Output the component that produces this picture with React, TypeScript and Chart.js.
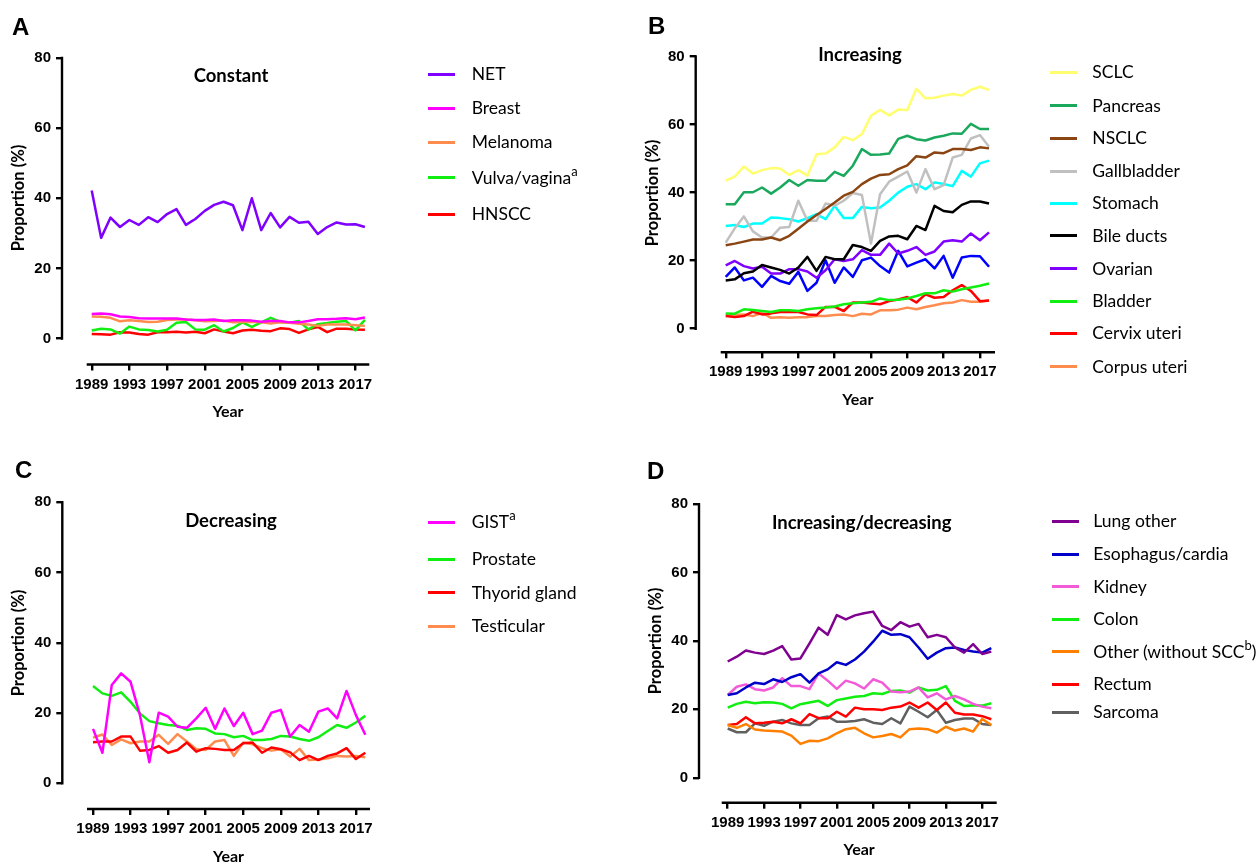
import React, { useEffect, useRef } from "react";
import { Chart, registerables } from "chart.js";

Chart.register(...registerables);

// ---------- data ----------
const years = [1989, 1990, 1991, 1992, 1993, 1994, 1995, 1996, 1997, 1998, 1999, 2000, 2001, 2002, 2003, 2004, 2005, 2006, 2007, 2008, 2009, 2010, 2011, 2012, 2013, 2014, 2015, 2016, 2017, 2018];
const xTickYears = [1989, 1993, 1997, 2001, 2005, 2009, 2013, 2017];
const yTickValues = [0, 20, 40, 60, 80];

// A – Constant
const netA = [42.2, 28.7, 34.5, 31.8, 33.8, 32.4, 34.6, 33.2, 35.5, 36.9, 32.4, 34.1, 36.4, 38.1, 39.0, 38.0, 30.9, 40.0, 30.9, 35.8, 31.7, 34.7, 33.0, 33.3, 29.8, 31.8, 33.1, 32.5, 32.6, 31.8];
const breastA = [7.0, 7.1, 6.9, 6.3, 6.1, 5.8, 5.7, 5.7, 5.7, 5.7, 5.4, 5.3, 5.3, 5.4, 5.0, 5.2, 5.2, 5.1, 4.8, 5.0, 5.0, 4.6, 4.6, 5.0, 5.5, 5.5, 5.6, 5.8, 5.5, 6.0];
const melanomaA = [6.3, 6.2, 5.9, 4.9, 5.2, 5.0, 4.7, 4.8, 5.3, 5.4, 5.4, 5.2, 4.9, 5.0, 5.1, 4.6, 4.7, 4.8, 4.6, 4.3, 4.6, 4.5, 4.2, 4.0, 3.6, 4.0, 4.0, 4.0, 3.8, 3.6];
const vulvaA = [2.3, 2.8, 2.6, 1.4, 3.4, 2.6, 2.4, 2.0, 2.5, 4.5, 4.7, 2.6, 2.5, 3.8, 2.0, 3.0, 4.6, 3.3, 4.6, 5.9, 4.8, 4.5, 5.0, 2.6, 4.1, 4.4, 4.8, 5.0, 2.3, 5.3];
const hnsccA = [1.3, 1.2, 1.1, 1.8, 1.7, 1.3, 1.1, 1.8, 1.8, 1.9, 1.7, 1.9, 1.5, 2.6, 2.0, 1.5, 2.3, 2.5, 2.2, 2.1, 2.9, 2.7, 1.6, 2.6, 3.3, 1.8, 2.8, 2.8, 2.6, 2.5];

// B – Increasing
const sclcB = [43.5, 44.7, 47.7, 45.6, 46.6, 47.2, 47.1, 45.2, 46.6, 45.0, 51.3, 51.5, 53.3, 56.4, 55.4, 57.2, 62.6, 64.3, 62.7, 64.4, 64.3, 70.5, 67.7, 67.9, 68.5, 69.0, 68.5, 70.2, 71.1, 70.2];
const pancreasB = [36.6, 36.6, 40.1, 40.1, 41.5, 39.7, 41.5, 43.7, 42.0, 43.7, 43.5, 43.5, 46.1, 44.9, 47.9, 52.8, 51.1, 51.2, 51.5, 55.8, 56.7, 55.7, 55.3, 56.2, 56.7, 57.4, 57.3, 60.2, 58.7, 58.7];
const nsclcB = [24.5, 25.0, 25.6, 26.2, 26.2, 26.8, 26.0, 27.3, 29.4, 31.5, 33.4, 35.2, 37.1, 39.1, 40.2, 42.5, 44.1, 45.2, 45.4, 46.9, 48.0, 50.7, 50.3, 51.8, 51.6, 52.8, 52.8, 52.5, 53.3, 53.0];
const gallbladderB = [25.3, 29.5, 33.0, 28.6, 26.8, 26.8, 29.7, 29.9, 37.6, 31.7, 31.7, 36.8, 36.2, 37.6, 39.9, 39.3, 25.0, 39.5, 43.2, 44.7, 46.2, 40.0, 46.9, 41.0, 42.2, 50.3, 51.1, 55.9, 56.9, 53.5];
const stomachB = [30.2, 30.5, 29.9, 30.9, 30.9, 32.7, 32.5, 32.2, 31.5, 32.5, 33.7, 32.2, 36.1, 32.5, 32.5, 35.8, 35.4, 35.6, 37.6, 40.0, 41.7, 42.5, 41.0, 43.0, 42.5, 41.9, 46.4, 44.7, 48.6, 49.4];
const bileDuctsB = [14.2, 14.5, 16.3, 16.8, 18.7, 18.0, 17.3, 16.2, 18.0, 21.1, 17.0, 21.1, 20.4, 20.4, 24.6, 24.0, 22.9, 25.8, 27.1, 27.3, 26.3, 30.2, 29.0, 36.1, 34.6, 34.2, 36.4, 37.4, 37.4, 36.8];
const ovarianB = [18.6, 19.9, 18.4, 17.7, 18.2, 16.2, 16.2, 17.5, 17.5, 16.8, 15.0, 17.2, 20.4, 19.9, 20.4, 23.1, 21.7, 21.7, 25.0, 22.1, 22.9, 24.0, 21.7, 22.7, 25.6, 26.0, 25.6, 28.0, 26.0, 28.3];
const unlabeledBlueB = [15.2, 18.0, 14.2, 15.0, 12.3, 15.5, 14.0, 13.2, 16.7, 11.1, 13.5, 20.1, 13.5, 18.0, 15.2, 20.1, 20.9, 18.4, 16.5, 22.9, 18.3, 19.4, 20.4, 17.7, 21.4, 15.0, 20.9, 21.4, 21.3, 18.2];
const bladderB = [4.5, 4.4, 5.7, 5.5, 5.2, 4.9, 5.4, 5.4, 5.2, 5.7, 6.0, 6.2, 6.5, 7.2, 7.5, 7.7, 7.9, 8.9, 8.4, 8.5, 8.9, 9.6, 10.4, 10.4, 11.3, 10.9, 11.6, 12.1, 12.6, 13.3];
const cervixB = [3.7, 3.4, 3.7, 5.0, 4.2, 4.5, 4.9, 4.9, 4.9, 4.2, 4.0, 6.4, 6.4, 5.2, 7.7, 7.7, 7.4, 7.2, 8.1, 8.6, 9.3, 7.7, 10.1, 9.1, 9.3, 11.3, 12.8, 11.1, 8.1, 8.3];
const corpusB = [4.2, 4.0, 4.2, 3.7, 4.7, 3.2, 3.4, 3.2, 3.4, 3.4, 3.7, 3.7, 4.0, 4.2, 3.7, 4.4, 4.2, 5.4, 5.4, 5.6, 6.2, 5.7, 6.4, 6.9, 7.5, 7.7, 8.4, 7.9, 7.9, 8.3];

// C – Decreasing
const gistC = [15.5, 8.7, 28.0, 31.3, 28.9, 19.4, 6.0, 20.1, 19.0, 16.1, 15.8, 18.5, 21.5, 15.5, 21.3, 16.3, 20.1, 14.0, 15.0, 20.1, 20.9, 13.3, 16.6, 14.7, 20.4, 21.3, 18.5, 26.3, 19.4, 13.8];
const prostateC = [27.7, 25.6, 24.9, 25.9, 23.2, 19.9, 17.7, 17.1, 16.6, 16.4, 15.2, 15.7, 15.5, 14.2, 14.0, 13.1, 13.5, 12.3, 12.3, 12.6, 13.5, 13.3, 12.6, 12.1, 13.1, 14.9, 16.6, 15.8, 17.3, 19.2];
const thyroidC = [11.7, 11.9, 11.9, 13.3, 13.3, 9.3, 9.5, 10.6, 8.7, 9.5, 11.6, 9.0, 10.0, 9.8, 9.5, 9.5, 11.4, 11.6, 8.7, 10.2, 9.7, 8.8, 6.6, 7.8, 6.6, 7.8, 8.5, 10.0, 6.9, 8.7];
const testicularC = [13.0, 13.9, 10.9, 12.5, 11.4, 11.9, 11.9, 13.8, 11.2, 14.0, 11.9, 9.7, 9.5, 11.9, 12.3, 7.8, 11.6, 11.1, 10.0, 9.3, 9.7, 7.6, 9.8, 6.6, 6.8, 7.1, 7.8, 7.6, 7.8, 7.4];

// D – Increasing/decreasing
const lungOtherD = [34.0, 35.4, 37.2, 36.6, 36.2, 37.2, 38.5, 34.6, 34.9, 39.3, 43.9, 41.8, 47.6, 46.3, 47.5, 48.1, 48.6, 44.4, 43.2, 45.5, 44.2, 45.0, 41.1, 41.8, 41.1, 38.1, 36.6, 39.1, 36.2, 36.9];
const esophagusD = [24.2, 24.7, 26.4, 27.8, 27.4, 28.8, 28.0, 29.4, 30.3, 27.8, 30.5, 31.7, 33.8, 33.0, 34.6, 36.9, 39.8, 43.0, 41.8, 42.0, 41.1, 38.1, 34.8, 36.6, 37.9, 38.1, 37.4, 36.9, 36.6, 37.9];
const kidneyD = [24.2, 26.6, 27.3, 25.9, 25.5, 26.4, 29.1, 26.8, 26.8, 25.9, 30.5, 28.4, 26.0, 28.4, 27.6, 26.1, 28.8, 27.8, 25.2, 25.0, 25.2, 26.4, 23.5, 24.7, 22.9, 23.9, 22.9, 21.6, 20.8, 20.3];
const colonD = [20.5, 21.6, 22.2, 21.8, 22.1, 22.0, 21.6, 20.3, 21.5, 22.0, 22.5, 21.0, 22.7, 23.2, 23.7, 23.9, 24.7, 24.5, 25.4, 25.5, 24.9, 26.4, 25.5, 25.7, 26.8, 22.5, 21.0, 21.1, 21.1, 21.8];
const otherD = [15.4, 14.6, 15.7, 14.1, 13.8, 13.7, 13.5, 12.3, 9.9, 10.8, 10.7, 11.5, 13.0, 14.2, 14.6, 13.0, 11.8, 12.2, 12.8, 11.8, 14.2, 14.4, 14.2, 13.2, 14.9, 13.8, 14.4, 13.5, 17.2, 15.4];
const rectumD = [15.4, 15.7, 17.7, 15.9, 16.1, 16.4, 15.9, 17.1, 15.9, 18.6, 17.4, 17.4, 19.3, 17.9, 20.5, 20.0, 20.0, 19.8, 20.5, 20.8, 22.0, 20.5, 22.0, 19.8, 22.0, 19.0, 18.5, 18.5, 18.0, 17.1];
const sarcomaD = [14.4, 13.3, 13.3, 15.9, 15.2, 16.4, 16.9, 15.9, 15.4, 15.4, 17.4, 17.9, 16.4, 16.4, 16.6, 17.1, 16.1, 15.7, 17.4, 15.9, 20.8, 19.3, 17.7, 19.8, 16.1, 16.9, 17.3, 17.3, 15.7, 15.4];

// ---------- styles ----------
const W = 1257;
const H = 862;
const LEGEND_FONT = "Lato, 'Open Sans', sans-serif";
const AXIS_FONT = "Lato, 'Liberation Sans', sans-serif";

type Series = { label: string; sup?: string; after?: string; values: number[]; color: string; inLegend?: boolean };

type Geo = {
  yLineX: number; y80: number; y0: number; xLineY: number;
  xStart: number; xEnd: number; x1989: number; pxYr: number;
  title: string; titleX: number; titleY: number;
  letter: string; letterX: number; letterY: number;
  legLineX: number; legTextX: number; legRows: number[];
};

const panels: { geo: Geo; series: Series[] }[] = [
  {
    geo: { yLineX: 62, y80: 58, y0: 338.5, xLineY: 364.5, xStart: 86.7, xEnd: 369.3, x1989: 91.7, pxYr: 9.42,
      title: "Constant", titleX: 231, titleY: 75, letter: "A", letterX: 12, letterY: 27,
      legLineX: 427.7, legTextX: 471.7, legRows: [74, 108.3, 142.3, 177.7, 214] },
    series: [
      { label: "NET", values: netA, color: "#7f00ff" },
      { label: "Breast", values: breastA, color: "#ff00ff" },
      { label: "Melanoma", values: melanomaA, color: "#ff8c4f" },
      { label: "Vulva/vagina", sup: "a", values: vulvaA, color: "#11ee11" },
      { label: "HNSCC", values: hnsccA, color: "#ff0000" },
    ],
  },
  {
    geo: { yLineX: 695.7, y80: 56.5, y0: 328.7, xLineY: 352.3, xStart: 720.7, xEnd: 995, x1989: 725.7, pxYr: 9.08,
      title: "Increasing", titleX: 860, titleY: 54.3, letter: "B", letterX: 648, letterY: 26,
      legLineX: 1050, legTextX: 1092.3, legRows: [72.3, 105.7, 138.3, 171, 203.3, 235.7, 268.7, 301, 333.3, 366.7] },
    series: [
      { label: "SCLC", values: sclcB, color: "#ffff70" },
      { label: "Pancreas", values: pancreasB, color: "#1aa85c" },
      { label: "NSCLC", values: nsclcB, color: "#8b4513" },
      { label: "Gallbladder", values: gallbladderB, color: "#c0c0c0" },
      { label: "Stomach", values: stomachB, color: "#00ffff" },
      { label: "Bile ducts", values: bileDuctsB, color: "#000000" },
      { label: "Ovarian", values: ovarianB, color: "#7f00ff" },
      { label: "", values: unlabeledBlueB, color: "#0000ff", inLegend: false },
      { label: "Bladder", values: bladderB, color: "#11ee11" },
      { label: "Cervix uteri", values: cervixB, color: "#ff0000" },
      { label: "Corpus uteri", values: corpusB, color: "#ff8c4f" },
    ],
  },
  {
    geo: { yLineX: 62.3, y80: 502.3, y0: 783.3, xLineY: 809, xStart: 87, xEnd: 370, x1989: 93, pxYr: 9.39,
      title: "Decreasing", titleX: 231, titleY: 520, letter: "C", letterX: 15, letterY: 470,
      legLineX: 428.3, legTextX: 471.7, legRows: [522.3, 559, 592.7, 626] },
    series: [
      { label: "GIST", sup: "a", values: gistC, color: "#ff00ff" },
      { label: "Prostate", values: prostateC, color: "#11ee11" },
      { label: "Thyorid gland", values: thyroidC, color: "#ff0000" },
      { label: "Testicular", values: testicularC, color: "#ff8c4f" },
    ],
  },
  {
    geo: { yLineX: 699, y80: 504.3, y0: 777.7, xLineY: 802.7, xStart: 721.7, xEnd: 996.7, x1989: 727.7, pxYr: 9.09,
      title: "Increasing/decreasing", titleX: 861.7, titleY: 521.7, letter: "D", letterX: 647, letterY: 471,
      legLineX: 1051.7, legTextX: 1093.3, legRows: [521, 554, 586.7, 619.3, 651.7, 684.3, 712.3] },
    series: [
      { label: "Lung other", values: lungOtherD, color: "#800090" },
      { label: "Esophagus/cardia", values: esophagusD, color: "#0000c8" },
      { label: "Kidney", values: kidneyD, color: "#f25ad8" },
      { label: "Colon", values: colonD, color: "#11ee11" },
      { label: "Other (without SCC", sup: "b", after: ")", values: otherD, color: "#ff8000" },
      { label: "Rectum", values: rectumD, color: "#ff0000" },
      { label: "Sarcoma", values: sarcomaD, color: "#606060" },
    ],
  },
];

const TICK_FONT = { family: "'Liberation Sans', Arial, sans-serif", weight: "bold" as const, size: 15 };

function PanelChart({ geo, series }: { geo: Geo; series: Series[] }) {
  const ref = useRef<HTMLCanvasElement | null>(null);
  useEffect(() => {
    if (!ref.current) return;
    const pxPerUnit = (geo.y0 - geo.y80) / 80;
    const yMin = -(geo.xLineY - geo.y0) / pxPerUnit;
    const xMin = 1989 - (geo.x1989 - geo.yLineX) / geo.pxYr;
    const xMax = 1989 + (geo.xEnd - geo.x1989) / geo.pxYr;
    const xAxisStart = 1989 - (geo.x1989 - geo.xStart) / geo.pxYr;
    const Y_AXIS_W = 60;
    const X_AXIS_H = 40;

    const axisLines = {
      id: "prismAxes",
      afterDraw(chart: any) {
        const ctx = chart.ctx;
        const xs = chart.scales.x;
        const ys = chart.scales.y;
        const area = chart.chartArea;
        ctx.save();
        ctx.strokeStyle = "#000";
        ctx.lineWidth = 2.4;
        ctx.lineCap = "butt";
        ctx.beginPath();
        ctx.moveTo(area.left, ys.getPixelForValue(80) - 1.2);
        ctx.lineTo(area.left, ys.getPixelForValue(0) + 1.2);
        ctx.stroke();
        ctx.beginPath();
        ctx.moveTo(xs.getPixelForValue(xAxisStart), area.bottom);
        ctx.lineTo(area.right, area.bottom);
        ctx.stroke();
        ctx.restore();
      },
    };

    const chart = new Chart(ref.current, {
      type: "line",
      data: {
        datasets: series.map((s) => ({
          label: s.label,
          data: s.values.map((v, i) => ({ x: years[i], y: v })),
          borderColor: s.color,
          backgroundColor: s.color,
          borderWidth: 2.5,
          pointRadius: 0,
          tension: 0,
          borderJoinStyle: "round" as const,
          fill: false,
        })),
      },
      options: {
        responsive: false,
        animation: false,
        events: [],
        layout: {
          padding: {
            left: geo.yLineX - Y_AXIS_W,
            top: geo.y80,
            right: W - geo.xEnd,
            bottom: H - X_AXIS_H - geo.xLineY,
          },
        },
        plugins: { legend: { display: false }, tooltip: { enabled: false }, title: { display: false } },
        scales: {
          x: {
            type: "linear",
            min: xMin,
            max: xMax,
            afterBuildTicks: (scale: any) => {
              scale.ticks = xTickYears.map((v) => ({ value: v }));
            },
            afterFit: (scale: any) => {
              scale.height = X_AXIS_H;
            },
            ticks: {
              autoSkip: false,
              maxRotation: 0,
              minRotation: 0,
              padding: 5,
              color: "#000",
              font: TICK_FONT,
              callback: (v: any) => String(v),
            },
            grid: { display: true, drawOnChartArea: false, drawTicks: true, tickLength: 6, color: "#000", lineWidth: 2.4 },
            border: { display: false },
          },
          y: {
            type: "linear",
            min: yMin,
            max: 80,
            afterBuildTicks: (scale: any) => {
              scale.ticks = yTickValues.map((v) => ({ value: v }));
            },
            afterFit: (scale: any) => {
              scale.width = Y_AXIS_W;
            },
            ticks: {
              autoSkip: false,
              padding: 5,
              color: "#000",
              font: TICK_FONT,
              callback: (v: any) => String(v),
            },
            grid: { display: true, drawOnChartArea: false, drawTicks: true, tickLength: 6, color: "#000", lineWidth: 2.4 },
            border: { display: false },
          },
        },
      },
      plugins: [axisLines],
    } as any);
    return () => chart.destroy();
  }, [geo, series]);

  return (
    <canvas
      ref={ref}
      width={W}
      height={H}
      style={{ position: "absolute", left: 0, top: 0, width: W, height: H }}
    />
  );
}

function PanelText({ geo, series }: { geo: Geo; series: Series[] }) {
  const lh = 24;
  const legendItems = series.filter((s) => s.inLegend !== false);
  return (
    <>
      <div style={{ position: "absolute", left: geo.letterX, top: geo.letterY - 14, height: 28, lineHeight: "28px",
        fontFamily: "'Liberation Sans', Arial, sans-serif", fontWeight: "bold", fontSize: 24, color: "#000" }}>{geo.letter}</div>
      <div style={{ position: "absolute", left: geo.titleX, top: geo.titleY - 12, height: lh, lineHeight: lh + "px",
        transform: "translateX(-50%)", whiteSpace: "nowrap", fontFamily: AXIS_FONT, fontWeight: "bold", fontSize: 18.5, color: "#000" }}>{geo.title}</div>
      <div style={{ position: "absolute", left: (geo.xStart + geo.xEnd) / 2, top: geo.xLineY + 46.5 - 12, height: lh, lineHeight: lh + "px",
        transform: "translateX(-50%)", whiteSpace: "nowrap", fontFamily: AXIS_FONT, fontWeight: "bold", fontSize: 16, color: "#000" }}>Year</div>
      <div style={{ position: "absolute", left: geo.yLineX - 44, top: (geo.y80 + geo.y0) / 2, width: 0, height: 0 }}>
        <div style={{ position: "absolute", left: 0, top: 0, transform: "translate(-50%, -50%) rotate(-90deg)", whiteSpace: "nowrap",
          lineHeight: "20px", fontFamily: AXIS_FONT, fontWeight: "bold", fontSize: 16.5, color: "#000" }}>Proportion (%)</div>
      </div>
      {legendItems.map((s, i) => (
        <React.Fragment key={s.label}>
          <div style={{ position: "absolute", left: geo.legLineX, top: geo.legRows[i] - 1.5, width: 27, height: 3, background: s.color }} />
          <div style={{ position: "absolute", left: geo.legTextX, top: geo.legRows[i] - lh / 2, height: lh, lineHeight: lh + "px",
            whiteSpace: "nowrap", fontFamily: LEGEND_FONT, fontSize: 17.5, color: "#000" }}>
            {s.label}
            {s.sup ? <sup style={{ fontSize: 13, lineHeight: 0, verticalAlign: "8px" }}>{s.sup}</sup> : null}
            {s.after ?? ""}
          </div>
        </React.Fragment>
      ))}
    </>
  );
}

export default function App() {
  return (
    <div style={{ position: "fixed", left: 0, top: 0, width: W, height: H, background: "#fff", overflow: "hidden" }}>
      {panels.map((p, i) => (
        <PanelChart key={"c" + i} geo={p.geo} series={p.series} />
      ))}
      {panels.map((p, i) => (
        <PanelText key={"t" + i} geo={p.geo} series={p.series} />
      ))}
    </div>
  );
}
